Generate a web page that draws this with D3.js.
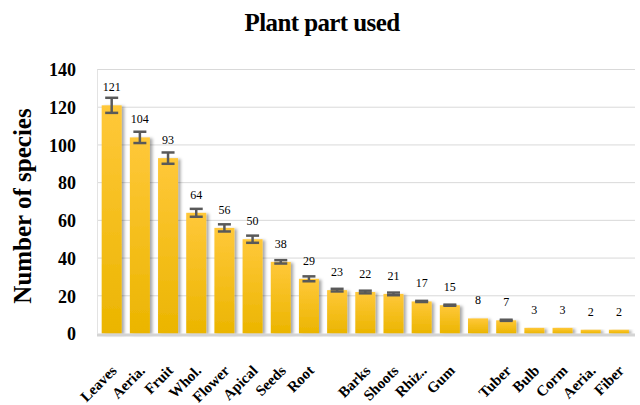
<!DOCTYPE html>
<html>
<head>
<meta charset="utf-8">
<script src="https://cdn.jsdelivr.net/npm/d3@7/dist/d3.min.js"></script>
<style>
  html, body { margin: 0; padding: 0; background: #fff; }
  svg { display: block; }
</style>
</head>
<body>
<svg id="chart" width="640" height="405"></svg>
<script>
const categories = ["Leaves","Aeria.","Fruit","Whol.","Flower","Apical","Seeds","Root","","Barks","Shoots","Rhiz..","Gum","","Tuber","Bulb","Corm","Aeria.","Fiber"];
const values = [121,104,93,64,56,50,38,29,23,22,21,17,15,8,7,3,3,2,2];
const errors = [4,3,3,2.1,1.9,1.9,0.9,1.3,0.7,0.7,0.7,0.3,0.3,0,0.3,0,0,0,0];
const yTicks = [0,20,40,60,80,100,120,140];

const svg = d3.select("#chart");
const serif = "'Liberation Serif','DejaVu Serif',serif";

const x = d3.scaleBand().domain(d3.range(values.length)).range([97.6, 633]).paddingInner(0.29).paddingOuter(0.145);
const y = d3.scaleLinear().domain([0, 140]).range([333.5, 69.5]);

const defs = svg.append("defs");
const grad = defs.append("linearGradient").attr("id","barGrad").attr("x1",0).attr("y1",0).attr("x2",0).attr("y2",1);
grad.append("stop").attr("offset","0%").attr("stop-color","#FFC83A");
grad.append("stop").attr("offset","100%").attr("stop-color","#EBB500");
const f = defs.append("filter").attr("id","shadow").attr("x","-30%").attr("y","-10%").attr("width","160%").attr("height","130%");
f.append("feDropShadow").attr("dx",2.5).attr("dy",1).attr("stdDeviation",1.6).attr("flood-color","#000").attr("flood-opacity",0.35);

// title
svg.append("text").attr("x", 322).attr("y", 31).attr("text-anchor","middle")
  .attr("font-family", serif).attr("font-weight","bold").attr("font-size", 25)
  .attr("letter-spacing", -0.6).attr("fill","#000").text("Plant part used");

// gridlines
svg.append("g").selectAll("line").data(yTicks.filter(d => d > 0)).join("line")
  .attr("x1", 97).attr("x2", 635).attr("y1", d => y(d)).attr("y2", d => y(d))
  .attr("stroke", "#d9d9d9").attr("stroke-width", 1);

// left axis line
svg.append("line").attr("x1",97.5).attr("x2",97.5).attr("y1",y(140)).attr("y2",y(0))
  .attr("stroke","#e3e3e3").attr("stroke-width",1);

// y tick labels
const yAxis = d3.axisLeft(y).tickValues(yTicks).tickSize(0).tickPadding(0);
const ya = svg.append("g").attr("transform","translate(76,0)").call(yAxis);
ya.select(".domain").remove();
ya.selectAll("text").attr("font-family", serif).attr("font-weight","bold").attr("font-size",18).attr("fill","#000").attr("dy","0.35em");

// y axis title
svg.append("text").attr("transform","translate(31,206) rotate(-90)").attr("text-anchor","middle")
  .attr("font-family", serif).attr("font-weight","bold").attr("font-size",25).attr("fill","#000")
  .text("Number of species");

// bars
svg.append("g").selectAll("rect").data(values).join("rect")
  .attr("x", (d,i) => x(i)).attr("width", x.bandwidth())
  .attr("y", d => y(d)).attr("height", d => y(0) - y(d))
  .attr("fill","url(#barGrad)").attr("filter","url(#shadow)");

// bottom axis line
svg.append("line").attr("x1",97).attr("x2",635).attr("y1",y(0)+1.5).attr("y2",y(0)+1.5)
  .attr("stroke","#d4d4d4").attr("stroke-width",3);

// error bars
const eb = svg.append("g").selectAll("g").data(values.map((v,i)=>({v, e: errors[i], i})).filter(d => d.e > 0)).join("g");
const capW = 6.5;
eb.append("line").attr("x1", d => x(d.i)+x.bandwidth()/2).attr("x2", d => x(d.i)+x.bandwidth()/2)
  .attr("y1", d => y(d.v + d.e)).attr("y2", d => y(d.v - d.e)).attr("stroke","#595959").attr("stroke-width",2.5);
eb.append("line").attr("x1", d => x(d.i)+x.bandwidth()/2-capW).attr("x2", d => x(d.i)+x.bandwidth()/2+capW)
  .attr("y1", d => y(d.v + d.e)).attr("y2", d => y(d.v + d.e)).attr("stroke","#595959").attr("stroke-width",2.5);
eb.append("line").attr("x1", d => x(d.i)+x.bandwidth()/2-capW).attr("x2", d => x(d.i)+x.bandwidth()/2+capW)
  .attr("y1", d => y(d.v - d.e)).attr("y2", d => y(d.v - d.e)).attr("stroke","#595959").attr("stroke-width",2.5);

// value labels
svg.append("g").selectAll("text").data(values).join("text")
  .attr("x", (d,i) => x(i)+x.bandwidth()/2).attr("y", d => y(d) - 14)
  .attr("text-anchor","middle").attr("font-family", serif).attr("font-size",12).attr("fill","#000")
  .text(d => d);

// x labels
svg.append("g").selectAll("text").data(categories).join("text")
  .attr("transform", (d,i) => `translate(${x(i)+x.bandwidth()/2+6},${y(0)+38}) rotate(-45)`)
  .attr("text-anchor","end").attr("font-family", serif).attr("font-weight","bold").attr("font-size",15).attr("fill","#000")
  .text(d => d);
</script>
</body>
</html>
